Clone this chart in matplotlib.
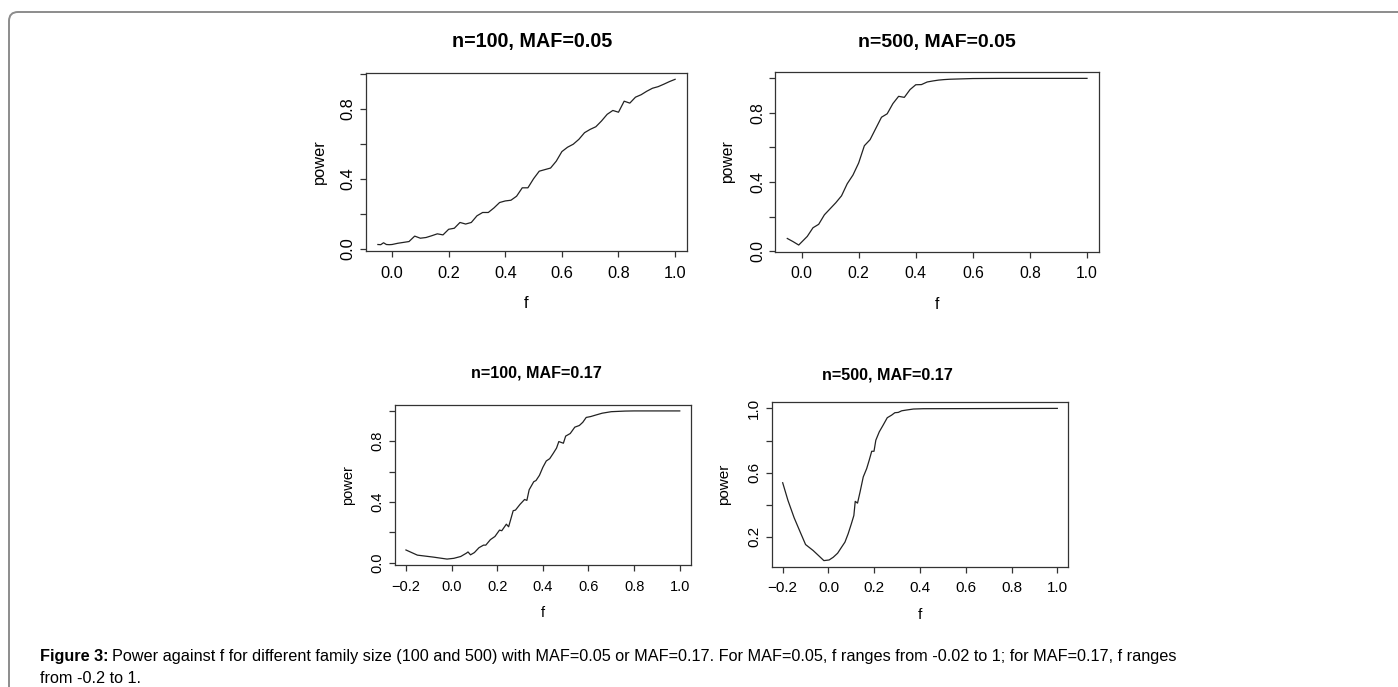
import numpy as np
import matplotlib
matplotlib.use("Agg")
import matplotlib.pyplot as plt
from matplotlib.patches import FancyBboxPatch
from matplotlib.transforms import IdentityTransform

plt.rcParams['font.family'] = ['Liberation Sans', 'DejaVu Sans']

# n=100, MAF=0.05
f_100_05 = [-0.05, -0.04, -0.03, -0.02, -0.01, 0.00, 0.02, 0.04, 0.06, 0.08,
            0.10, 0.12, 0.14, 0.16, 0.18, 0.20, 0.22, 0.24, 0.26, 0.28,
            0.30, 0.32, 0.34, 0.36, 0.38, 0.40, 0.42, 0.44, 0.46, 0.48,
            0.50, 0.52, 0.54, 0.56, 0.58, 0.60, 0.62, 0.64, 0.66, 0.68,
            0.70, 0.72, 0.74, 0.76, 0.78, 0.80, 0.82, 0.84, 0.86, 0.88,
            0.90, 0.92, 0.94, 0.96, 0.98, 1.00]
pow_100_05 = [0.024, 0.023, 0.034, 0.024, 0.023, 0.024, 0.031, 0.036, 0.041, 0.072,
              0.060, 0.064, 0.074, 0.085, 0.079, 0.111, 0.117, 0.150, 0.141, 0.150,
              0.188, 0.207, 0.207, 0.233, 0.264, 0.273, 0.277, 0.300, 0.348, 0.348,
              0.400, 0.443, 0.452, 0.461, 0.500, 0.555, 0.580, 0.597, 0.625, 0.663,
              0.682, 0.697, 0.730, 0.768, 0.790, 0.780, 0.843, 0.832, 0.866, 0.880,
              0.900, 0.917, 0.926, 0.940, 0.955, 0.968]

# n=500, MAF=0.05
f_500_05 = [-0.05, -0.03, -0.01, 0.02, 0.04, 0.06, 0.08, 0.10, 0.12, 0.14,
            0.16, 0.18, 0.20, 0.22, 0.24, 0.26, 0.28, 0.30, 0.32, 0.34,
            0.36, 0.38, 0.40, 0.42, 0.44, 0.46, 0.48, 0.50, 0.52, 0.54,
            0.56, 0.58, 0.60, 0.70, 0.80, 0.90, 1.00]
pow_500_05 = [0.073, 0.055, 0.035, 0.085, 0.135, 0.155, 0.210, 0.245, 0.280, 0.320,
              0.390, 0.440, 0.510, 0.610, 0.645, 0.710, 0.775, 0.795, 0.854, 0.896,
              0.890, 0.935, 0.963, 0.964, 0.979, 0.985, 0.990, 0.993, 0.995, 0.996,
              0.997, 0.998, 0.999, 1.000, 1.000, 1.000, 1.000]

# n=100, MAF=0.17
f_100_17 = [-0.20, -0.15, -0.08, -0.02, 0.01, 0.04, 0.065, 0.072, 0.083, 0.10,
            0.12, 0.14, 0.15, 0.17, 0.19, 0.21, 0.22, 0.24, 0.25, 0.27,
            0.28, 0.30, 0.32, 0.33, 0.34, 0.36, 0.37, 0.385, 0.40, 0.415,
            0.43, 0.445, 0.46, 0.47, 0.49, 0.50, 0.52, 0.54, 0.56, 0.575,
            0.59, 0.61, 0.63, 0.66, 0.70, 0.76, 0.80, 1.00]
pow_100_17 = [0.083, 0.049, 0.036, 0.023, 0.028, 0.040, 0.062, 0.070, 0.051, 0.066,
              0.098, 0.115, 0.115, 0.151, 0.172, 0.214, 0.210, 0.253, 0.236, 0.342,
              0.346, 0.384, 0.416, 0.410, 0.480, 0.533, 0.541, 0.575, 0.628, 0.670,
              0.685, 0.719, 0.755, 0.798, 0.787, 0.834, 0.851, 0.893, 0.904, 0.925,
              0.957, 0.963, 0.972, 0.985, 0.995, 0.999, 1.000, 1.000]

# n=500, MAF=0.17
f_500_17 = [-0.20, -0.177, -0.15, -0.125, -0.10, -0.067, -0.04, -0.02, 0.003, 0.021,
            0.04, 0.057, 0.072, 0.086, 0.10, 0.111, 0.117, 0.127, 0.138, 0.152,
            0.167, 0.178, 0.189, 0.199, 0.207, 0.222, 0.239, 0.257, 0.276, 0.29,
            0.305, 0.32, 0.342, 0.371, 0.415, 1.00]
pow_500_17 = [0.537, 0.427, 0.319, 0.235, 0.152, 0.115, 0.079, 0.052, 0.056, 0.073,
              0.098, 0.135, 0.167, 0.219, 0.281, 0.333, 0.421, 0.410, 0.479, 0.573,
              0.625, 0.677, 0.733, 0.733, 0.802, 0.854, 0.896, 0.942, 0.958, 0.973,
              0.975, 0.985, 0.990, 0.996, 0.998, 1.000]

titles = ['n=100, MAF=0.05', 'n=500, MAF=0.05', 'n=100, MAF=0.17', 'n=500, MAF=0.17']

W, H = 1398, 687
fig = plt.figure(figsize=(W / 100, H / 100), dpi=100)


def px_axes(left, top, right, bottom):
    return fig.add_axes([left / W, 1 - bottom / H, (right - left) / W, (bottom - top) / H])


def fmt(t):
    return ('%.1f' % t).replace('-', '\u2212')


def r_style(ax, x, y, xticks, yticks, ylabels, fs, xpad, ypad):
    ax.plot(x, y, color='#222222', lw=0.9)
    ax.margins(x=0.04, y=0.04)
    for s in ax.spines.values():
        s.set_color('#333333')
        s.set_linewidth(0.9)
    ax.set_xticks(xticks)
    ax.set_xticklabels([fmt(t) for t in xticks])
    ax.set_yticks(yticks)
    ax.set_yticklabels([fmt(t) if t in ylabels else '' for t in yticks])
    ax.tick_params(direction='out', length=4.5, width=0.9, color='#333333',
                   labelsize=fs, pad=6)
    ax.tick_params(axis='y', labelrotation=90, pad=3)
    plt.setp(ax.get_yticklabels(), va='center')
    ax.set_xlabel('f', fontsize=fs, labelpad=xpad)
    ax.set_ylabel('power', fontsize=fs, labelpad=ypad)


xt_a = [0.0, 0.2, 0.4, 0.6, 0.8, 1.0]
xt_b = [-0.2, 0.0, 0.2, 0.4, 0.6, 0.8, 1.0]
yt = [0.0, 0.2, 0.4, 0.6, 0.8, 1.0]

ax1 = px_axes(366, 72.7, 687, 251.3)
r_style(ax1, f_100_05, pow_100_05, xt_a, yt, [0.0, 0.4, 0.8], 11.8, 11, 10)
ax2 = px_axes(775.3, 71.7, 1099, 251.7)
r_style(ax2, f_500_05, pow_500_05, xt_a, yt, [0.0, 0.4, 0.8], 11.3, 11, 11)
ax3 = px_axes(395, 405, 690.7, 565)
r_style(ax3, f_100_17, pow_100_17, xt_b, yt, [0.0, 0.4, 0.8], 10.5, 9, 11)
ax4 = px_axes(771.7, 402.3, 1068.3, 566.7)
r_style(ax4, f_500_17, pow_500_17, xt_b, [0.2, 0.4, 0.6, 0.8, 1.0], [0.2, 0.6, 1.0],
        11.0, 9, 12)

# panel titles
for (cx, base, size), t in zip([(532, 47, 14.2), (937, 47, 14.0),
                                (536, 378, 11.6), (887, 379, 11.6)], titles):
    fig.text(cx / W, 1 - base / H, t, ha='center', va='baseline',
             fontsize=size, fontweight='bold')

# rounded frame around the figure
frame = FancyBboxPatch((9, -30), W + 40, H - 12 + 30,
                       boxstyle='round,pad=0,rounding_size=9',
                       transform=IdentityTransform(), fill=False,
                       edgecolor='#8c8c8c', linewidth=1.4)
fig.patches.append(frame)

# caption
cap_font = ['Liberation Sans Narrow', 'Liberation Sans']
cap_size = 11.7
lead = fig.text(40 / W, 1 - 661 / H, 'Figure 3:', fontsize=cap_size, fontweight='bold',
                family=cap_font, va='baseline')
fig.canvas.draw()
bb = lead.get_window_extent(fig.canvas.get_renderer())
fig.text((bb.x1 + 4) / W, 1 - 661 / H,
         'Power against f for different family size (100 and 500) with MAF=0.05 or '
         'MAF=0.17. For MAF=0.05, f ranges from -0.02 to 1; for MAF=0.17, f ranges',
         fontsize=cap_size, family=cap_font, va='baseline')
fig.text(40 / W, 1 - 683 / H, 'from -0.2 to 1.', fontsize=cap_size,
         family=cap_font, va='baseline')

fig.savefig('out.png', dpi=100)
